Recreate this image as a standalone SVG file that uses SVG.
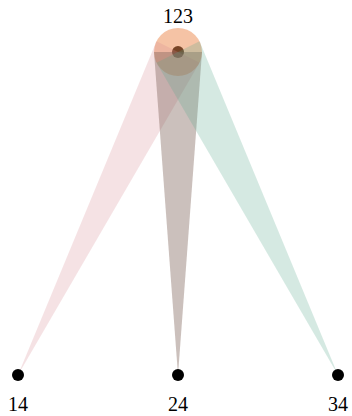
<svg xmlns="http://www.w3.org/2000/svg" width="352" height="416" viewBox="0 0 352 416">
<style>
.dot{fill:#000}
.lbl{font-family:"Liberation Serif","DejaVu Serif",serif;font-size:20px;fill:#000;text-anchor:middle}
</style>
<rect width="352" height="416" fill="#fff"/>
<g id="node-123">
<circle class="dot" cx="178" cy="52" r="6"/>
<circle cx="178" cy="52" r="24" fill="#eb874b" fill-opacity="0.5"/>
<text class="lbl" x="178" y="23">123</text>
</g>
<g id="connectors">
<polygon points="18,375 156.5,41.3 199.5,62.7" fill="#d78b93" fill-opacity="0.25"/>
<polygon points="178,375 154,52 202,52" fill="#7d6157" fill-opacity="0.4"/>
<polygon points="338,375 199.5,41.3 156.5,62.7" fill="#57a78b" fill-opacity="0.25"/>
</g>
<g id="node-14">
<circle class="dot" cx="18" cy="375" r="6"/>
<text class="lbl" x="18" y="411">14</text>
</g>
<g id="node-24">
<circle class="dot" cx="178" cy="375" r="6"/>
<text class="lbl" x="178" y="411">24</text>
</g>
<g id="node-34">
<circle class="dot" cx="338" cy="375" r="6"/>
<text class="lbl" x="338" y="411">34</text>
</g>
</svg>
